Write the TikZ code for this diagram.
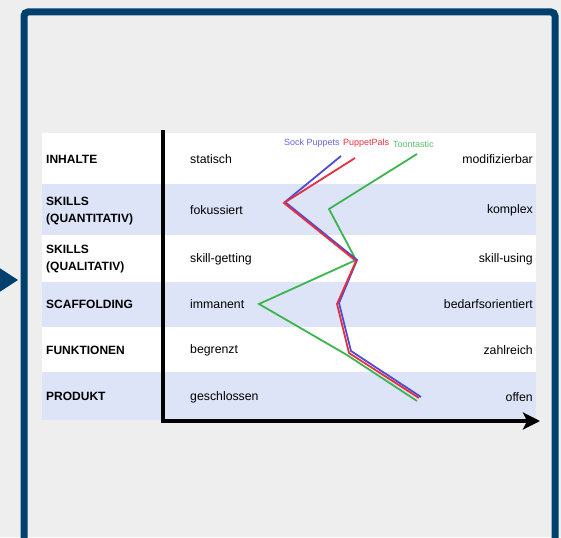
\documentclass[tikz,border=0pt]{standalone}
\usepackage{fontspec}
\setmainfont{Liberation Sans}
\usetikzlibrary{arrows.meta}
\definecolor{bgc}{HTML}{EEEEEE}
\definecolor{framec}{HTML}{00406E}
\definecolor{rowblue}{HTML}{DDE4F7}
\definecolor{sockc}{HTML}{4B4BD6}
\definecolor{palsc}{HTML}{E8303C}
\definecolor{toonc}{HTML}{3DB54E}
\tikzset{
  rowlabel/.style={anchor=west,align=left,inner sep=0pt,font=\bfseries\fontsize{12}{16.5}\selectfont},
  leftval/.style={anchor=west,inner sep=0pt,font=\fontsize{12.3}{14}\selectfont},
  rightval/.style={anchor=east,inner sep=0pt,font=\fontsize{12.3}{14}\selectfont},
  legend/.style={anchor=west,inner sep=0pt,font=\fontsize{9}{10}\selectfont},
  series/.style={line width=1.8pt,line join=miter}
}
\begin{document}
\begin{tikzpicture}[x=1pt,y=-1pt]
\useasboundingbox (0,0) rectangle (561,537);
\clip (0,0) rectangle (561,537);
\fill[bgc] (0,0) rectangle (561,537);
% frame
\draw[framec,line width=7pt,rounded corners=4pt] (24,12) rectangle (555,580);
\fill[framec] (-2,267) -- (18,280) -- (-2,293) -- cycle;
% table rows
\fill[white] (42,133) rectangle (536,420);
\fill[rowblue] (42,184) rectangle (536,235);
\fill[rowblue] (42,282) rectangle (536,327);
\fill[rowblue] (42,372) rectangle (536,420);
% row labels
\node[rowlabel] (r1) at (46,159) {INHALTE};
\node[rowlabel] (r2) at (46,211) {SKILLS\\(QUANTITATIV)};
\node[rowlabel] (r3) at (46,259) {SKILLS\\(QUALITATIV)};
\node[rowlabel] (r4) at (46,304) {SCAFFOLDING};
\node[rowlabel] (r5) at (46,350) {FUNKTIONEN};
\node[rowlabel] (r6) at (46,396) {PRODUKT};
\node[leftval] (l1) at (190,159) {statisch};
\node[leftval] (l2) at (190,210) {fokussiert};
\node[leftval] (l3) at (190,259) {skill-getting};
\node[leftval] (l4) at (190,304) {immanent};
\node[leftval] (l5) at (190,350) {begrenzt};
\node[leftval] (l6) at (190,397) {geschlossen};
\node[rightval] (q1) at (533,159) {modifizierbar};
\node[rightval] (q2) at (533,210) {komplex};
\node[rightval] (q3) at (533,259) {skill-using};
\node[rightval] (q4) at (533,304) {bedarfsorientiert};
\node[rightval] (q5) at (533,350) {zahlreich};
\node[rightval] (q6) at (533,397) {offen};
% legend
\node[legend,text=sockc!85] (lgs) at (284,143) {Sock Puppets};
\node[legend,text=palsc] (lgp) at (343,143) {PuppetPals};
\node[legend,text=toonc!85] (lgt) at (393,144) {Toontastic};
% series points
\coordinate (s1) at (341,156); \coordinate (s2) at (285,202); \coordinate (s3) at (357,260);
\coordinate (s4) at (339,303); \coordinate (s5) at (351,351); \coordinate (s6) at (421,397);
\coordinate (p1) at (355,158); \coordinate (p2) at (284,203); \coordinate (p3) at (356,261);
\coordinate (p4) at (337,304); \coordinate (p5) at (349,353); \coordinate (p6) at (419,398);
\coordinate (t1) at (417,154); \coordinate (t2) at (329,209); \coordinate (t3) at (356,260);
\coordinate (t4) at (259,304); \coordinate (t5) at (347,355); \coordinate (t6) at (417,401);
\draw[series,toonc] (t1) -- (t2) -- (t3) -- (t4) -- (t5) -- (t6);
\draw[series,sockc] (s1) -- (s2) -- (s3) -- (s4) -- (s5) -- (s6);
\draw[series,palsc] (p1) -- (p2) -- (p3) -- (p4) -- (p5) -- (p6);
% axes
\coordinate (ytop) at (163,130);
\coordinate (origin) at (163,421);
\coordinate (xend) at (540,421);
\draw[line width=3.6pt,-{Stealth[length=17pt,width=17pt,inset=4pt]}] (ytop) -- (origin) -- (xend);
\end{tikzpicture}
\end{document}
